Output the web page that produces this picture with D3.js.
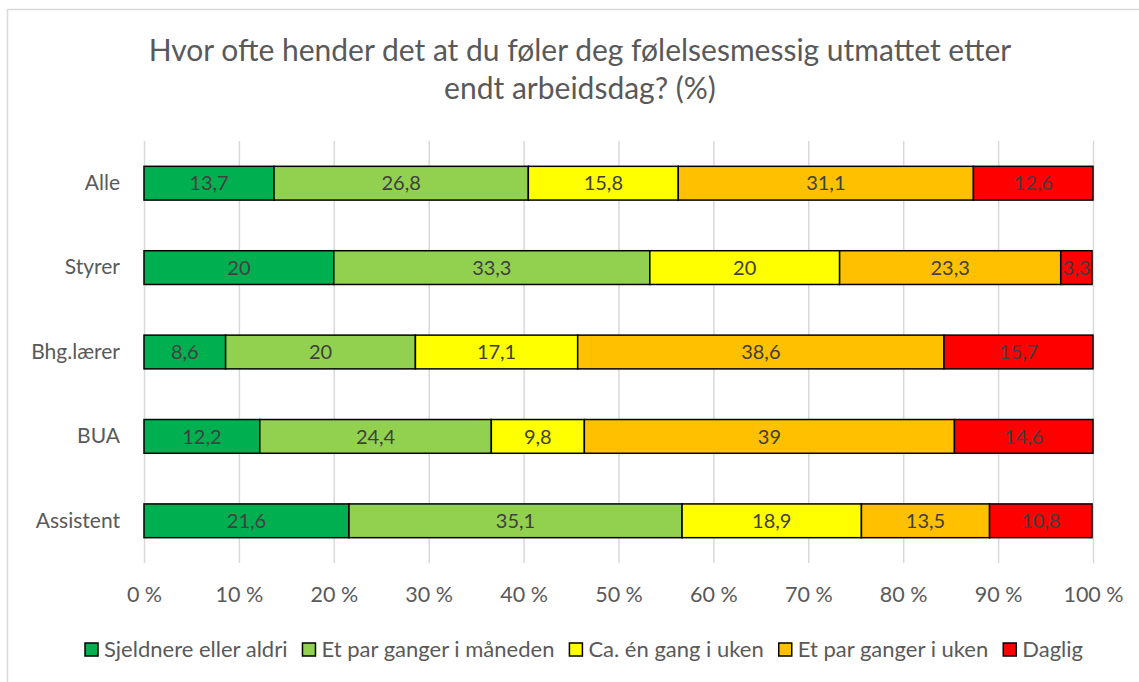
<!DOCTYPE html>
<html><head><meta charset="utf-8">
<script src="https://cdn.jsdelivr.net/npm/d3@7"></script>
<style>body{margin:0;background:#fff}svg{display:block;font-family:Lato,"Open Sans",sans-serif}</style>
</head><body><svg id="c" width="1139" height="682"></svg>
<script>
const categories = ["Alle","Styrer","Bhg.lærer","BUA","Assistent"];
const seriesNames = ["Sjeldnere eller aldri","Et par ganger i måneden","Ca. én gang i uken","Et par ganger i uken","Daglig"];
const sjeldnere = [13.7,20,8.6,12.2,21.6];
const parMaaned = [26.8,33.3,20,24.4,35.1];
const enGangUke = [15.8,20,17.1,9.8,18.9];
const parUke = [31.1,23.3,38.6,39,13.5];
const daglig = [12.6,3.3,15.7,14.6,10.8];
const tickValues = [0,10,20,30,40,50,60,70,80,90,100];
const colors = ["#00B050","#92D050","#FFFF00","#FFC000","#FF0000"];
const titleLines = ["Hvor ofte hender det at du føler deg følelsesmessig utmattet etter","endt arbeidsdag? (%)"];

const series = [sjeldnere,parMaaned,enGangUke,parUke,daglig];
const svg = d3.select("#c");
svg.append("rect").attr("x",7.5).attr("y",9.5).attr("width",1140).attr("height",700)
  .attr("fill","#fff").attr("stroke","#d9d9d9").attr("stroke-width",1.5);

const title = svg.append("text").attr("text-anchor","middle").attr("fill","#595959").attr("font-size",30);
titleLines.forEach((t,i)=>title.append("tspan").attr("x",580).attr("y",61+i*38).text(t));

const x = d3.scaleLinear().domain([0,100]).range([144,1093]);
const y = d3.scaleBand().domain(categories).range([141,563]).paddingInner(0.6).paddingOuter(0.3);

svg.append("g").selectAll("line").data(tickValues).join("line")
  .attr("x1",d=>x(d)+0.5).attr("x2",d=>x(d)+0.5).attr("y1",141).attr("y2",563)
  .attr("stroke","#d9d9d9").attr("stroke-width",1.5);

const xAxis = svg.append("g").attr("transform","translate(0,563)")
  .call(d3.axisBottom(x).tickValues(tickValues).tickFormat(d=>d+" %").tickSize(0).tickPadding(24));
xAxis.select(".domain").remove();
xAxis.selectAll("text").attr("font-size",21.5).attr("fill","#595959").attr("font-family","Lato,sans-serif");

const yAxis = svg.append("g").attr("transform","translate(144,0)")
  .call(d3.axisLeft(y).tickSize(0).tickPadding(24));
yAxis.select(".domain").remove();
yAxis.selectAll("text").attr("font-size",21).attr("fill","#595959").attr("font-family","Lato,sans-serif");

const stackData = categories.map((c,i)=>{const o={cat:c};seriesNames.forEach((s,j)=>o[s]=series[j][i]);return o;});
const stacked = d3.stack().keys(seriesNames)(stackData);
const gS = svg.append("g").selectAll("g").data(stacked).join("g").attr("fill",(d,i)=>colors[i]);
gS.selectAll("rect").data(d=>d).join("rect")
  .attr("x",d=>x(d[0])).attr("width",d=>x(d[1])-x(d[0]))
  .attr("y",d=>y(d.data.cat)).attr("height",y.bandwidth())
  .attr("stroke","#000").attr("stroke-width",1.5);
gS.selectAll("text").data(d=>d.map(v=>({v,key:d.key}))).join("text")
  .attr("x",d=>(x(d.v[0])+x(d.v[1]))/2).attr("y",d=>y(d.v.data.cat)+y.bandwidth()/2)
  .attr("dy","0.36em").attr("text-anchor","middle").attr("font-size",20).attr("fill","#404040")
  .text(d=>String(d.v.data[d.key]).replace(".",","));

const leg = svg.append("g");
const items = leg.selectAll("g").data(seriesNames).join("g");
items.append("rect").attr("width",13).attr("height",13).attr("y",-13)
  .attr("fill",(d,i)=>colors[i]).attr("stroke","#000").attr("stroke-width",1.5);
items.append("text").attr("x",19).attr("y",0).attr("dy","0.05em").attr("font-size",22).attr("fill","#595959").text(d=>d);
let pos=0; const gap=15; const offs=[];
items.each(function(){const w=this.getBBox().width; offs.push(pos); pos+=w+gap;});
const total=pos-gap, start=584-total/2;
items.attr("transform",(d,i)=>`translate(${start+offs[i]},656)`);
</script></body></html>
